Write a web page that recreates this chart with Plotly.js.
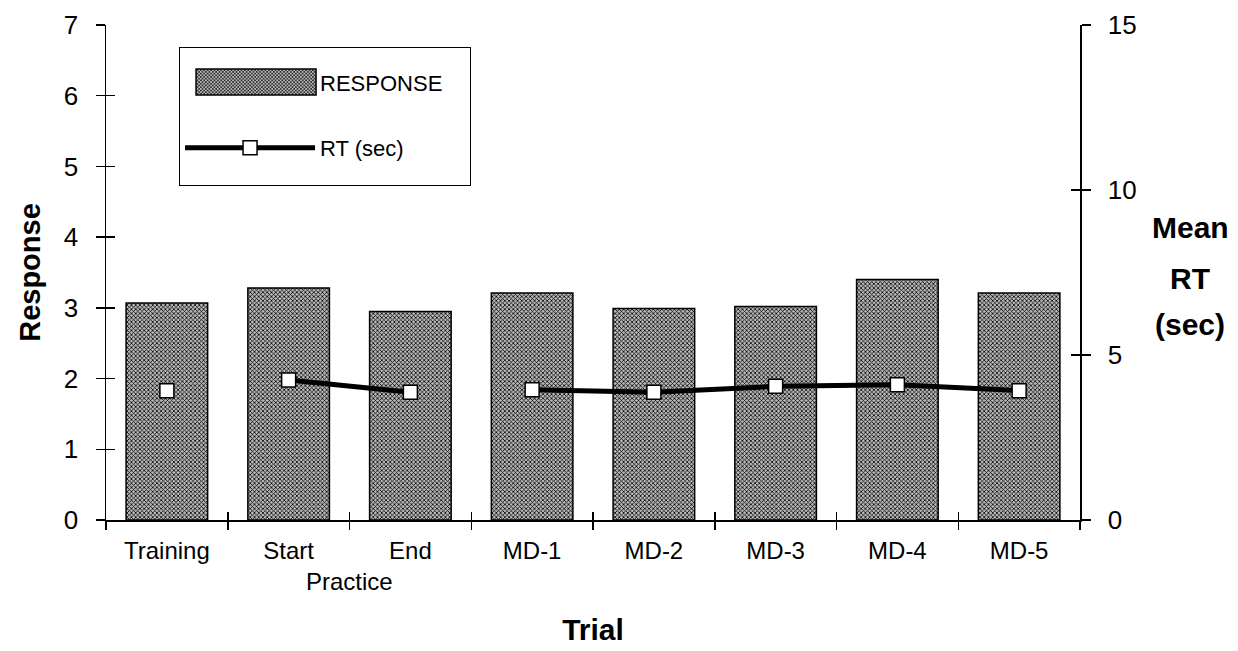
<!DOCTYPE html>
<html>
<head>
<meta charset="utf-8">
<script src="https://cdn.plot.ly/plotly-3.0.1.min.js"></script>
<style>
  html, body { margin: 0; padding: 0; background: #fff; }
  #chart { width: 1238px; height: 651px; }
</style>
</head>
<body>
<div id="chart"></div>
<script>
// Trials along the x axis
const trials = ['Training', 'Start', 'End', 'MD-1', 'MD-2', 'MD-3', 'MD-4', 'MD-5'];
// Mean response per trial (left axis)
const responseValues = [3.07, 3.28, 2.95, 3.21, 2.99, 3.02, 3.40, 3.21];
// Mean reaction time in seconds per trial (right axis)
const rtValues = [3.92, 4.24, 3.87, 3.95, 3.87, 4.05, 4.10, 3.92];
// Runs of trials whose RT points are joined by a line
const rtRuns = [[0], [1, 2], [3, 4, 5, 6, 7]];
// Axis ticks
const responseTicks = [0, 1, 2, 3, 4, 5, 6, 7];
const rtTicks = [0, 5, 10, 15];

const FONT = 'Liberation Sans, Arial, sans-serif';
const boundaries = trials.map((_, i) => i - 0.5).concat([trials.length - 0.5]);
const LEGEND_ITEM_W = 130;

const traces = [{
  type: 'bar',
  name: 'RESPONSE',
  x: trials,
  y: responseValues,
  width: 0.67,
  marker: {
    color: '#8a8a8a',
    line: { color: '#000', width: 1.5 },
    pattern: { shape: 'x', size: 3, solidity: 0.45, fgcolor: '#000', bgcolor: '#b8b8b8', fillmode: 'replace' }
  }
}];

rtRuns.forEach((run, k) => {
  traces.push({
    type: 'scatter',
    mode: 'lines+markers',
    name: 'RT (sec)',
    x: run.map(i => trials[i]),
    y: run.map(i => rtValues[i]),
    yaxis: 'y2',
    line: { color: '#000', width: 5 },
    marker: { symbol: 'square', size: 14, color: '#fff', line: { color: '#000', width: 1.5 } },
    showlegend: k === 2,
    legendgroup: 'rt'
  });
});

// Empty traces so the inner tick overlays get drawn (cross-style ticks)
traces.push({ type: 'scatter', x: [], y: [], xaxis: 'x2', yaxis: 'y3', showlegend: false, hoverinfo: 'skip' });
traces.push({ type: 'scatter', x: [], y: [], xaxis: 'x2', yaxis: 'y4', showlegend: false, hoverinfo: 'skip' });

const tickStyle = { tickcolor: '#000', tickwidth: 1.5 };

const layout = {
  width: 1238,
  height: 651,
  margin: { l: 106, r: 158, t: 25, b: 131 },
  paper_bgcolor: '#fff',
  plot_bgcolor: 'rgba(0,0,0,0)',
  font: { family: FONT, color: '#000', size: 24 },
  showlegend: true,
  legend: {
    x: 0.075, y: 0.955, xanchor: 'left', yanchor: 'top',
    bgcolor: '#fff', bordercolor: '#000', borderwidth: 1,
    font: { size: 22, family: FONT },
    itemwidth: LEGEND_ITEM_W, tracegroupgap: 34, traceorder: 'grouped',
    title: { text: ' ', font: { size: 10 } }
  },
  xaxis: Object.assign({
    type: 'category',
    categoryarray: trials,
    range: [-0.5, trials.length - 0.5],
    tickson: 'boundaries',
    ticks: 'outside', ticklen: 8,
    showline: true, linecolor: '#000', linewidth: 2,
    showgrid: false, zeroline: false,
    ticklabelstandoff: 8,
    tickfont: { size: 24 },
    title: { text: '<b>Trial</b>', font: { size: 30 }, standoff: 56 }
  }, tickStyle),
  xaxis2: Object.assign({
    overlaying: 'x', anchor: 'y3',
    range: [-0.5, trials.length - 0.5],
    tickmode: 'array', tickvals: boundaries,
    ticks: 'inside', ticklen: 8,
    showticklabels: false, showline: false, showgrid: false, zeroline: false
  }, tickStyle),
  yaxis: Object.assign({
    range: [0, 7],
    tickmode: 'array', tickvals: responseTicks,
    ticks: 'outside', ticklen: 9,
    showline: true, linecolor: '#000', linewidth: 1.5,
    showgrid: false, zeroline: false,
    ticklabelstandoff: 12,
    tickfont: { size: 26 },
    title: { text: '<b>Response</b>', font: { size: 29 }, standoff: 14 }
  }, tickStyle),
  yaxis3: Object.assign({
    overlaying: 'y', side: 'left', anchor: 'x2',
    range: [0, 7],
    tickmode: 'array', tickvals: responseTicks,
    ticks: 'inside', ticklen: 9,
    showticklabels: false, showline: false, showgrid: false, zeroline: false
  }, tickStyle),
  yaxis2: Object.assign({
    overlaying: 'y', side: 'right', anchor: 'x',
    range: [0, 15],
    tickmode: 'array', tickvals: rtTicks,
    ticks: 'outside', ticklen: 9,
    showline: true, linecolor: '#000', linewidth: 1.5,
    showgrid: false, zeroline: false,
    ticklabelstandoff: 12,
    tickfont: { size: 26 }
  }, tickStyle),
  yaxis4: Object.assign({
    overlaying: 'y', side: 'right', anchor: 'x2',
    range: [0, 15],
    tickmode: 'array', tickvals: rtTicks,
    ticks: 'inside', ticklen: 9,
    showticklabels: false, showline: false, showgrid: false, zeroline: false
  }, tickStyle),
  annotations: [
    { text: 'Practice', xref: 'x', yref: 'paper', x: 1.5, y: -0.125,
      xanchor: 'center', yanchor: 'middle', showarrow: false, font: { size: 24 } },
    // Right-hand axis title, one line per annotation for wider line spacing
    { text: '<b>Mean</b>', xref: 'paper', yref: 'paper', x: 1.113, y: 0.59,
      xanchor: 'center', yanchor: 'middle', showarrow: false, font: { size: 30 } },
    { text: '<b>RT</b>', xref: 'paper', yref: 'paper', x: 1.113, y: 0.488,
      xanchor: 'center', yanchor: 'middle', showarrow: false, font: { size: 30 } },
    { text: '<b>(sec)</b>', xref: 'paper', yref: 'paper', x: 1.113, y: 0.395,
      xanchor: 'center', yanchor: 'middle', showarrow: false, font: { size: 30 } }
  ]
};

const gd = document.getElementById('chart');
Plotly.newPlot(gd, traces, layout, { staticPlot: true, displayModeBar: false }).then(() => {
  // Widen the bar swatch in the legend to span the whole symbol slot
  const items = gd.querySelectorAll('.legend .traces');
  if (items.length) {
    const swatch = items[0].querySelector('.legendpoints path');
    if (swatch) {
      const half = (LEGEND_ITEM_W - 10) / 2;
      const shift = 6;
      swatch.setAttribute('d', `M${half + shift},13H${-half + shift}V-13H${half + shift}Z`);
    }
  }
  // A little more room around the legend entries
  const bg = gd.querySelector('.legend rect.bg');
  if (bg) {
    bg.setAttribute('width', parseFloat(bg.getAttribute('width')) + 22);
    bg.setAttribute('height', parseFloat(bg.getAttribute('height')) + 16);
  }
});
</script>
</body>
</html>
